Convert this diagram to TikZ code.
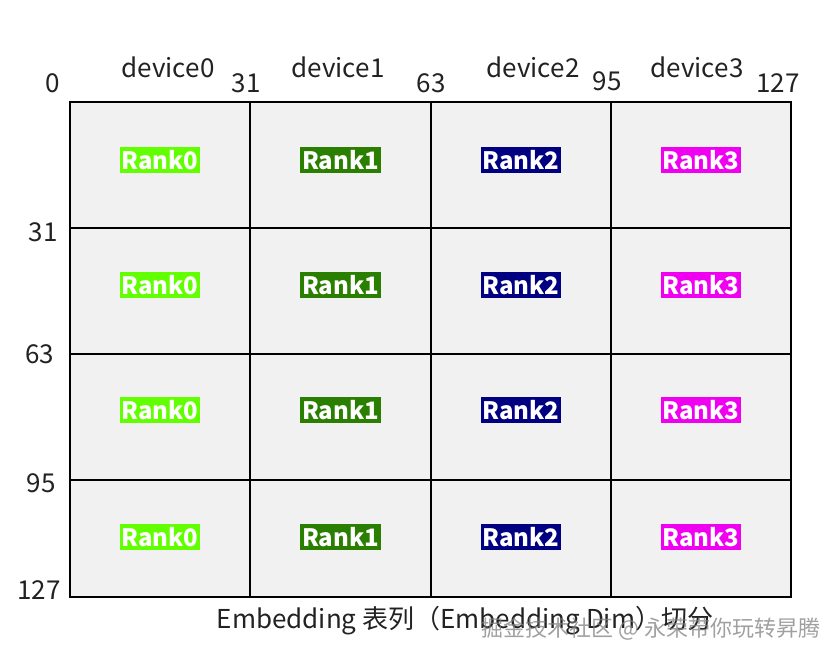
\documentclass[tikz,border=0pt]{standalone}
\usepackage{fontspec}
\setmainfont{Noto Sans CJK SC}
\definecolor{cellgray}{HTML}{F1F1F1}
\definecolor{rank0}{HTML}{62FF00}
\definecolor{rank1}{HTML}{2A7F00}
\definecolor{rank2}{HTML}{000080}
\definecolor{rank3}{HTML}{F000F0}
\definecolor{txt}{HTML}{222222}
\begin{document}
\begin{tikzpicture}[x=0.5pt,y=-0.5pt,font=\fontsize{13}{15}\selectfont,
  rank/.style={text=white,font=\fontsize{12}{14}\selectfont\bfseries,inner xsep=1pt,inner ysep=1.8pt},
  lbl/.style={text=txt}]
\useasboundingbox(0,0)rectangle(832,658);
% cells and rank labels
\foreach \c/\xa/\xb in {0/70/250,1/250/431,2/431/611,3/611/791}
  \foreach \r/\ya/\yb/\ym in {0/102/228/160,1/228/354/285,2/354/480/410,3/480/597/537}{
    \draw[line width=0.75pt,fill=cellgray](\xa,\ya)rectangle(\xb,\yb);
    \node[rank,fill=rank\c](r\r c\c)at({(\xa+\xb)/2},\ym){Rank\c};
  }
% top axis
\foreach \n/\x/\y in {0/53/83,31/246/83,63/431/83,95/607/81,127/778/83}
  \node[lbl](top\n)at(\x,\y){\n};
\foreach \d/\x in {0/168,1/338,2/533,3/697}
  \node[lbl](dev\d)at(\x,67){device\d};
% left axis
\foreach \n/\x/\y in {31/43/232,63/40/354,95/41/483,127/39/590}
  \node[lbl](left\n)at(\x,\y){\n};
\node[lbl](caption)at(465,621){Embedding 表列（Embedding Dim）切分};
\node[text=gray,opacity=0.75,font=\fontsize{11}{13}\selectfont](mark)at(651,629){掘金技术社区 @ 永荣带你玩转昇腾};
\end{tikzpicture}
\end{document}
